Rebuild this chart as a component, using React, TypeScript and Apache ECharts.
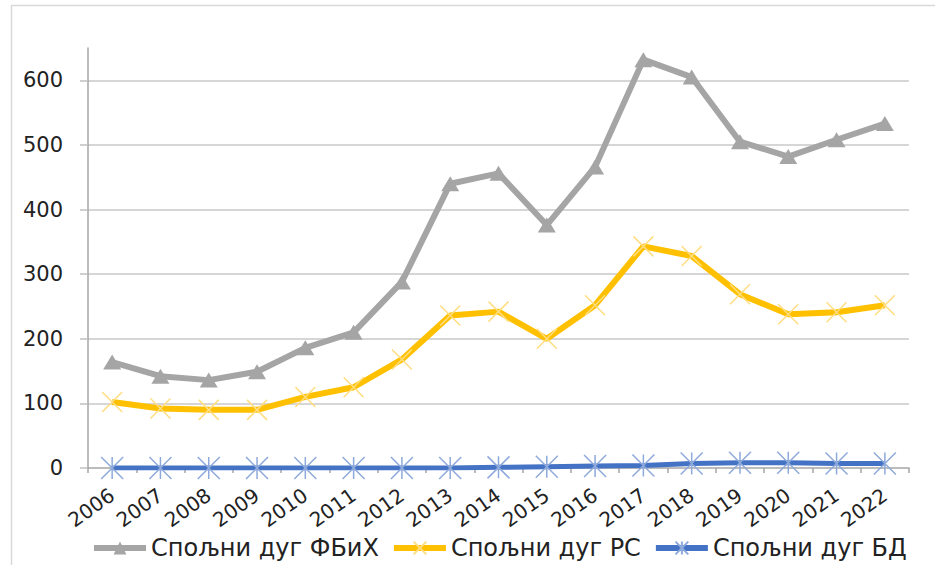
import React, { useEffect, useRef } from "react";
import * as echarts from "echarts";

const years = ["2006", "2007", "2008", "2009", "2010", "2011", "2012", "2013", "2014", "2015", "2016", "2017", "2018", "2019", "2020", "2021", "2022"];
const yTicks = [0, 100, 200, 300, 400, 500, 600];
const fbih = [164, 142, 136, 149, 186, 210, 288, 440, 456, 376, 466, 632, 605, 505, 482, 508, 533];
const rs = [102, 92, 90, 90, 110, 125, 168, 236, 242, 200, 252, 343, 328, 269, 238, 241, 252];
const bd = [0, 0, 0, 0, 0, 0, 0, 0, 1, 2, 3, 4, 7, 8, 8, 7, 7];
const seriesNames = ["Спољни дуг ФБиХ", "Спољни дуг РС", "Спољни дуг БД"];

export default function App() {
  const ref = useRef<HTMLDivElement>(null);
  useEffect(() => {
    const chart = echarts.init(ref.current!, null, { renderer: "svg" });
    chart.setOption({
      animation: false,
      backgroundColor: "#ffffff",
      textStyle: { fontFamily: "DejaVu Sans" },
      graphic: [
        {
          type: "rect",
          left: 9,
          top: 3,
          shape: { width: 940, height: 561 },
          style: { fill: "none", stroke: "#D9D9D9", lineWidth: 1.5 },
          silent: true,
        },
      ],
      grid: { left: 88, right: 26, top: 48, bottom: 97 },
      xAxis: {
        type: "category",
        data: years,
        boundaryGap: true,
        axisLine: { show: true, lineStyle: { color: "#A6A6A6", width: 1.5 } },
        axisTick: { show: true, length: 5, lineStyle: { color: "#A6A6A6", width: 1.5 } },
        axisLabel: { rotate: 35, fontSize: 20, color: "#222", margin: 25, interval: 0 },
        splitLine: { show: false },
      },
      yAxis: {
        type: "value",
        min: 0,
        max: 650,
        interval: 100,
        axisLine: { show: true, lineStyle: { color: "#A6A6A6", width: 1.5 } },
        axisTick: { show: true, length: 8, lineStyle: { color: "#BFBFBF", width: 1.5 }, customValues: yTicks },
        axisLabel: { fontSize: 21, color: "#222", margin: 25, customValues: yTicks },
        splitLine: { show: true, showMinLine: false, lineStyle: { color: "#C8C8C8", width: 1.5 } },
      },
      legend: {
        top: 531,
        left: 86,
        itemWidth: 52,
        itemHeight: 16,
        itemGap: 12,
        lineStyle: { width: 6 },
        textStyle: { fontSize: 24, color: "#222" },
        data: seriesNames,
      },
      series: [
        {
          name: seriesNames[0],
          type: "line",
          data: fbih,
          symbol: "triangle",
          symbolSize: [18, 15],
          lineStyle: { color: "#A5A5A5", width: 6 },
          itemStyle: { color: "#A5A5A5" },
          z: 2,
        },
        {
          name: seriesNames[1],
          type: "line",
          data: rs,
          symbol: "path://M0,0L20,20M20,0L0,20",
          symbolSize: 20,
          lineStyle: { color: "#FFC000", width: 6 },
          itemStyle: { color: "rgba(0,0,0,0)", borderColor: "#FFDD80", borderWidth: 1.5 },
          z: 3,
        },
        {
          name: seriesNames[2],
          type: "line",
          data: bd,
          symbol: "path://M0,0L20,20M20,0L0,20M10,0L10,20",
          symbolSize: 22,
          lineStyle: { color: "#4472C4", width: 5 },
          itemStyle: { color: "rgba(0,0,0,0)", borderColor: "#8EA9DB", borderWidth: 1.5 },
          z: 4,
        },
      ],
    });
    return () => chart.dispose();
  }, []);
  return (
    <div
      ref={ref}
      style={{ position: "absolute", left: 0, top: 0, width: 935, height: 565, background: "#fff" }}
    />
  );
}
